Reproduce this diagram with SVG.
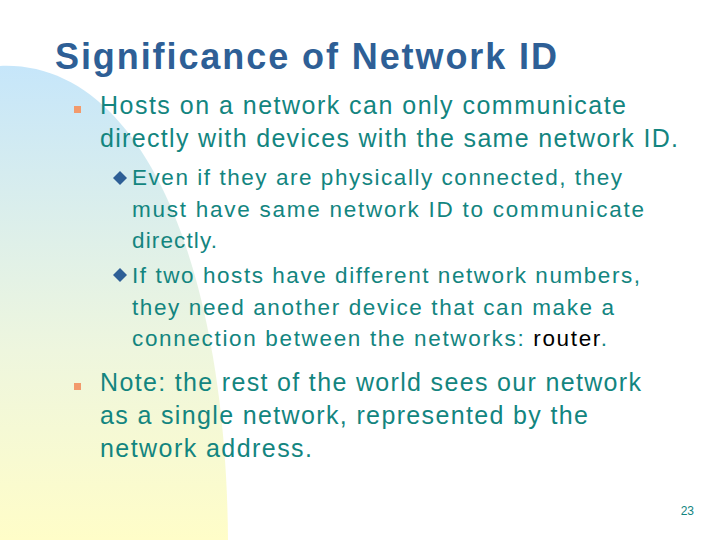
<svg xmlns="http://www.w3.org/2000/svg" width="720" height="540" viewBox="0 0 720 540">
<defs>
<linearGradient id="bg" x1="0" y1="0" x2="0" y2="1">
<stop offset="0" stop-color="#c6e6fa"/><stop offset="0.6" stop-color="#eef6de"/><stop offset="1" stop-color="#fffdc8"/>
</linearGradient>
<style>
.t{font-family:"Liberation Sans",Arial,sans-serif;fill:#13857f}
.b{font-size:25px}.s{font-size:22.5px}
</style>
</defs>
<rect width="720" height="540" fill="#fff"/>
<path d="M0,66 C140,60 226,260 228,540 L0,540 Z" fill="url(#bg)"/>
<text x="55" y="69" font-family="Liberation Sans,Arial,sans-serif" font-size="36" font-weight="bold" fill="#2e5f96" textLength="502">Significance of Network ID</text>
<rect x="74" y="106" width="7" height="7" fill="#f29a6c"/>
<rect x="74" y="383" width="7" height="7" fill="#f29a6c"/>
<path d="M113,178 l7,-7 7,7 -7,7z" fill="#2e5f96"/>
<path d="M113,275 l7,-7 7,7 -7,7z" fill="#2e5f96"/>
<text class="t b" x="100" y="114" textLength="526">Hosts on a network can only communicate</text>
<text class="t b" x="100" y="147" textLength="578">directly with devices with the same network ID.</text>
<text class="t s" x="132" y="185" textLength="490">Even if they are physically connected, they</text>
<text class="t s" x="132" y="217" textLength="512">must have same network ID to communicate</text>
<text class="t s" x="132" y="248" textLength="85">directly.</text>
<text class="t s" x="132" y="283" textLength="508">If two hosts have different network numbers,</text>
<text class="t s" x="132" y="315" textLength="482">they need another device that can make a</text>
<text class="t s" x="132" y="346" textLength="475">connection between the networks: <tspan fill="#000">router</tspan>.</text>
<text class="t b" x="100" y="391" textLength="541">Note: the rest of the world sees our network</text>
<text class="t b" x="100" y="424" textLength="488">as a single network, represented by the</text>
<text class="t b" x="100" y="457" textLength="212">network address.</text>
<text class="t" x="694" y="515" font-size="12" text-anchor="end">23</text>
</svg>
